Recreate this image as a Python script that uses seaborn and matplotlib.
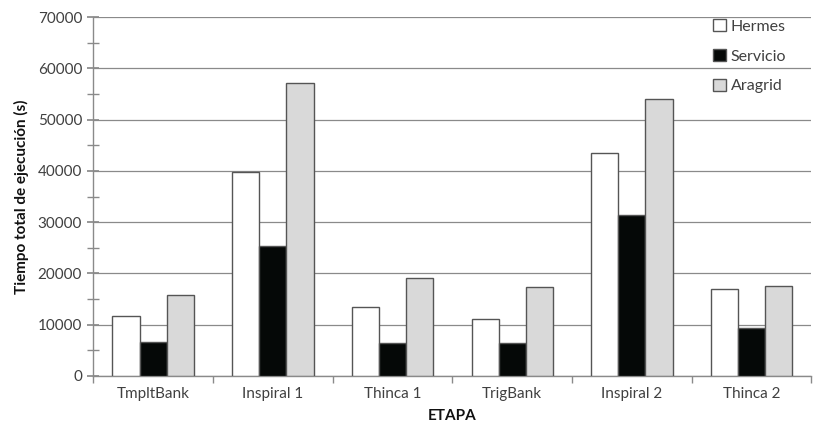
import matplotlib
matplotlib.use("Agg")
import matplotlib.pyplot as plt
import seaborn as sns
import pandas as pd
import numpy as np
from matplotlib.ticker import MultipleLocator, FixedLocator

etapas = ["TmpltBank", "Inspiral 1", "Thinca 1", "TrigBank", "Inspiral 2", "Thinca 2"]
hermes = [11600, 39800, 13500, 11000, 43400, 17000]
servicio = [6600, 25300, 6400, 6400, 31400, 9400]
aragrid = [15800, 57100, 19100, 17400, 54100, 17600]
series = ["Hermes", "Servicio", "Aragrid"]
colors = ["#ffffff", "#050807", "#d9d9d9"]

df = pd.DataFrame({
    "ETAPA": etapas * 3,
    "valor": hermes + servicio + aragrid,
    "serie": [s for s in series for _ in etapas],
})

sns.set_theme(style="white")
plt.rcParams["font.family"] = ["Lato", "DejaVu Sans"]

fig = plt.figure(figsize=(8.18, 4.30), dpi=100)
ax = fig.add_axes([0.114, 0.126, 0.878, 0.834])

sns.barplot(data=df, x="ETAPA", y="valor", hue="serie", hue_order=series,
            palette=colors, width=0.68, edgecolor="#555555", linewidth=1.0,
            saturation=1, ax=ax, zorder=3)

ax.set_ylim(0, 70000)
ax.set_xlim(-0.5, 5.5)
ax.yaxis.set_major_locator(MultipleLocator(10000))
ax.yaxis.set_minor_locator(MultipleLocator(5000))
ax.grid(axis="y", which="major", color="#8a8a8a", linewidth=0.9, zorder=0)
ax.set_axisbelow(True)
for s in ["top", "right"]:
    ax.spines[s].set_visible(False)
for s in ["left", "bottom"]:
    ax.spines[s].set_color("#8a8a8a")
    ax.spines[s].set_linewidth(1.0)

ax.tick_params(axis="y", which="both", direction="inout", length=8, color="#8a8a8a",
               labelsize=11, labelcolor="#404040", left=True, pad=4)
ax.tick_params(axis="y", which="minor", length=8)
ax.xaxis.set_minor_locator(FixedLocator(np.arange(-0.5, 6.0, 1.0)))
ax.tick_params(axis="x", which="major", length=0, labelsize=11, labelcolor="#404040", pad=8)
ax.tick_params(axis="x", which="minor", direction="out", length=5, color="#8a8a8a", bottom=True)

ax.set_xlabel("ETAPA", fontsize=11, fontweight="bold", color="#111111", labelpad=6)
ax.set_ylabel("Tiempo total de ejecución (s)", fontsize=11, fontweight="bold",
              color="#111111", labelpad=6)

leg = ax.legend(loc="upper right", bbox_to_anchor=(0.985, 1.035), frameon=False,
                fontsize=11.5, handlelength=0.8, handleheight=0.8, handletextpad=0.3,
                labelspacing=0.95, labelcolor="#404040")

fig.savefig("out.png", dpi=100, facecolor="white")
